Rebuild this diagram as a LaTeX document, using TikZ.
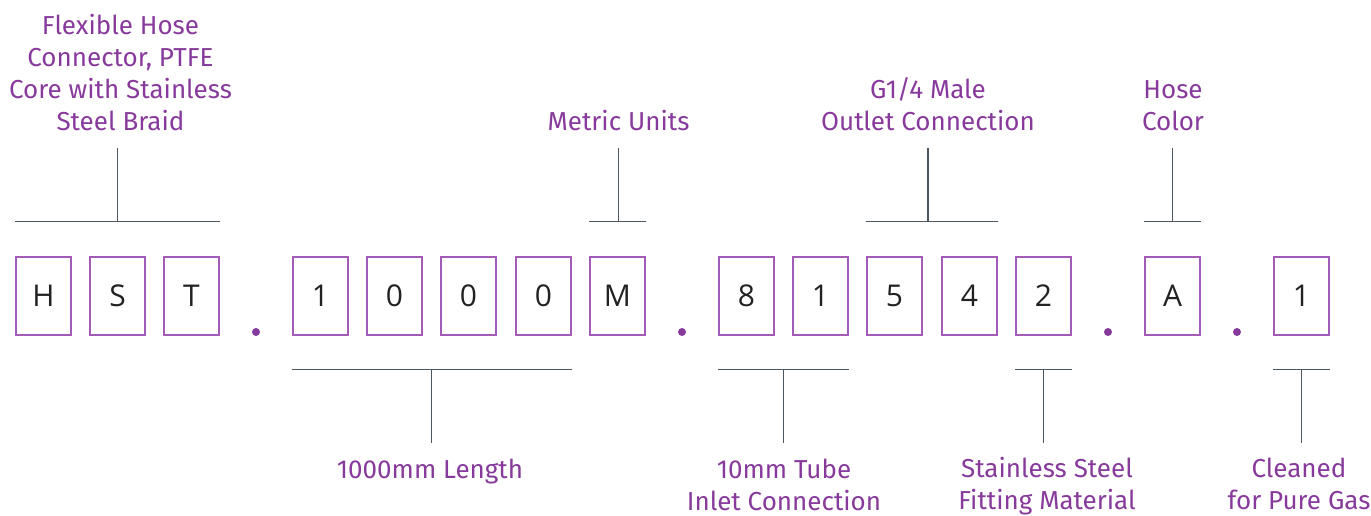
\documentclass[tikz,border=0pt]{standalone}
\usepackage{fontspec}
\setmainfont{Fira Sans}
\newfontfamily\boxfont{Open Sans}
\usetikzlibrary{calc}
\definecolor{lblpurple}{HTML}{873A9B}
\definecolor{boxpurple}{HTML}{A45BB8}
\definecolor{linegray}{HTML}{4B5862}
\definecolor{boxtext}{HTML}{222222}
\begin{document}
\begin{tikzpicture}[x=1pt,y=-1pt,
  codebox/.style={draw=boxpurple, line width=1.4pt, minimum width=55pt, minimum height=78pt, inner sep=0pt, font=\boxfont\fontsize{30}{30}\selectfont, text=boxtext},
  lbl/.style={text=lblpurple, align=center, inner sep=0pt, font=\fontsize{26}{32}\selectfont, anchor=base},
  bracket/.style={draw=linegray, line width=1.2pt},
  sep/.style={fill=lblpurple, circle, inner sep=0pt, minimum size=8pt}]
\useasboundingbox (0,0) rectangle (1371,515);
% code boxes
\node[codebox] (b1) at (43.5,296) {H};
\node[codebox] (b2) at (117.5,296) {S};
\node[codebox] (b3) at (191.5,296) {T};
\node[sep] (d1) at (256,332) {};
\node[codebox] (b4) at (320.5,296) {1};
\node[codebox] (b5) at (394.5,296) {0};
\node[codebox] (b6) at (468.5,296) {0};
\node[codebox] (b7) at (543.5,296) {0};
\node[codebox] (b8) at (617.5,296) {M};
\node[sep] (d2) at (682,332) {};
\node[codebox] (b9) at (746.5,296) {8};
\node[codebox] (b10) at (820.5,296) {1};
\node[codebox] (b11) at (894.5,296) {5};
\node[codebox] (b12) at (969.5,296) {4};
\node[codebox] (b13) at (1043.5,296) {2};
\node[sep] (d3) at (1108,332) {};
\node[codebox] (b14) at (1172.5,296) {A};
\node[sep] (d4) at (1237,332) {};
\node[codebox] (b15) at (1301.5,296) {1};
% labels
\node[lbl] (l1) at (120.5,130) {Flexible Hose\\Connector, PTFE\\Core with Stainless\\Steel Braid};
\node[lbl] (l2) at (618.5,130) {Metric Units};
\node[lbl] (l3) at (928,130) {G1/4 Male\\Outlet Connection};
\node[lbl] (l4) at (1173,130) {Hose\\Color};
\node[lbl] (l5) at (430,478) {1000mm Length};
\node[lbl] (l6) at (784,510) {10mm Tube\\Inlet Connection};
\node[lbl] (l7) at (1047,509) {Stainless Steel\\Fitting Material};
\node[lbl] (l8) at (1299,509) {Cleaned\\for Pure Gas};
% top brackets
\coordinate (a1l) at ([yshift=35pt]b1.north west);
\coordinate (a1r) at ([yshift=35pt]b3.north east);
\coordinate (a1m) at ([yshift=35pt]b2.north);
\coordinate (a1t) at ($(a1m)+(0,-73)$);
\draw[bracket] (a1l) -- (a1r) (a1m) -- (a1t);
\coordinate (a2l) at ([yshift=35pt]b8.north west);
\coordinate (a2r) at ([yshift=35pt]b8.north east);
\coordinate (a2m) at ([yshift=35pt,xshift=1pt]b8.north);
\coordinate (a2t) at ($(a2m)+(0,-73)$);
\draw[bracket] (a2l) -- (a2r) (a2m) -- (a2t);
\coordinate (a3l) at ([yshift=35pt]b11.north west);
\coordinate (a3r) at ([yshift=35pt]b12.north east);
\coordinate (a3m) at ($(a3l)!0.47!(a3r)$);
\coordinate (a3t) at ($(a3m)+(0,-73)$);
\draw[bracket] (a3l) -- (a3r) (a3m) -- (a3t);
\coordinate (a4l) at ([yshift=35pt]b14.north west);
\coordinate (a4r) at ([yshift=35pt]b14.north east);
\coordinate (a4m) at ([yshift=35pt]b14.north);
\coordinate (a4t) at ($(a4m)+(0,-73)$);
\draw[bracket] (a4l) -- (a4r) (a4m) -- (a4t);
% bottom brackets
\coordinate (c1l) at ([yshift=-34pt]b4.south west);
\coordinate (c1r) at ([yshift=-34pt]b7.south east);
\coordinate (c1m) at ($(c1l)!0.497!(c1r)$);
\coordinate (c1b) at ($(c1m)+(0,73)$);
\draw[bracket] (c1l) -- (c1r) (c1m) -- (c1b);
\coordinate (c2l) at ([yshift=-34pt]b9.south west);
\coordinate (c2r) at ([yshift=-34pt]b10.south east);
\coordinate (c2m) at ($(c2l)!0.5!(c2r)$);
\coordinate (c2b) at ($(c2m)+(0,73)$);
\draw[bracket] (c2l) -- (c2r) (c2m) -- (c2b);
\coordinate (c3l) at ([yshift=-34pt]b13.south west);
\coordinate (c3r) at ([yshift=-34pt]b13.south east);
\coordinate (c3m) at ([yshift=-34pt]b13.south);
\coordinate (c3b) at ($(c3m)+(0,73)$);
\draw[bracket] (c3l) -- (c3r) (c3m) -- (c3b);
\coordinate (c4l) at ([yshift=-34pt]b15.south west);
\coordinate (c4r) at ([yshift=-34pt]b15.south east);
\coordinate (c4m) at ([yshift=-34pt]b15.south);
\coordinate (c4b) at ($(c4m)+(0,73)$);
\draw[bracket] (c4l) -- (c4r) (c4m) -- (c4b);
\end{tikzpicture}
\end{document}
